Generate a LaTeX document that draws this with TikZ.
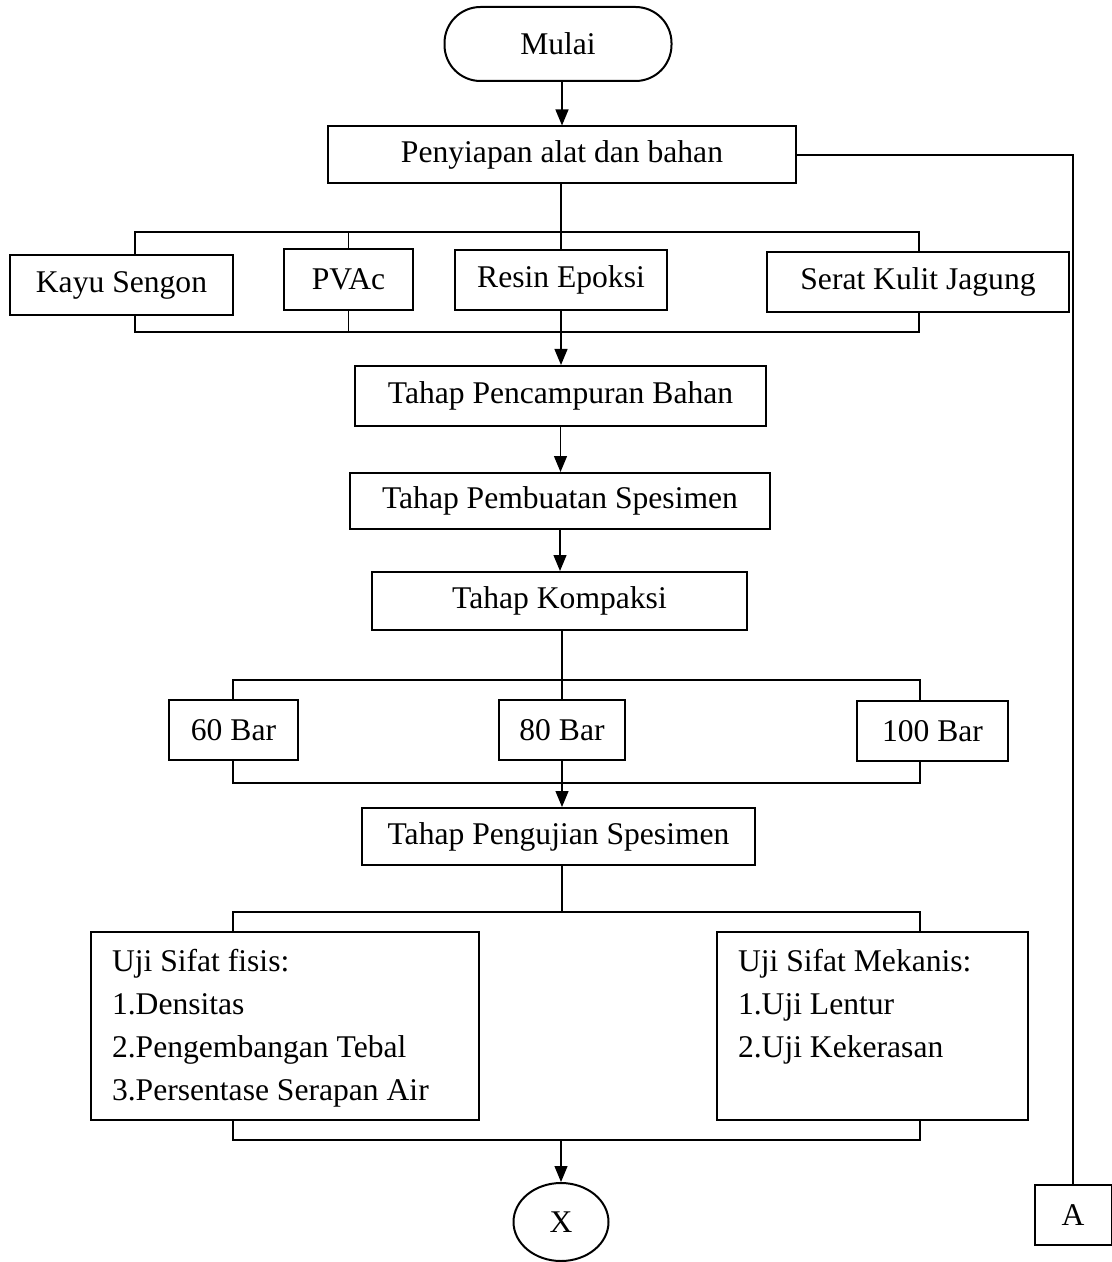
\documentclass[tikz,border=0pt]{standalone}
\usepackage{fontspec}
\setmainfont{Liberation Serif}
\usetikzlibrary{arrows.meta,shapes.geometric}

\begin{document}
\begin{tikzpicture}[x=0.5pt,y=-0.5pt,
	every node/.style={font=\fontsize{15.8}{21.5}\selectfont},
	box/.style={draw,line width=1pt,inner sep=0pt},
	line/.style={line width=0.6pt},
	arr/.style={line width=0.6pt,-{Triangle[length=8pt,width=6.5pt]}}]
\useasboundingbox (0,0) rectangle (1112,1262);

% start and preparation
\node[box,rounded corners=18pt,minimum width=113.5pt,minimum height=37pt] (mulai) at (558,44) {Mulai};
\node[box,minimum width=234pt,minimum height=28.5pt] (prep) at (562,155) {Penyiapan alat dan bahan};

% materials
\node[box,minimum width=111.5pt,minimum height=30pt] (kayu) at (121.5,285) {Kayu Sengon};
\node[box,minimum width=64.5pt,minimum height=30.5pt] (pvac) at (348.5,279.5) {PVAc};
\node[box,minimum width=106pt,minimum height=30pt] (resin) at (561,280) {Resin Epoksi};
\node[box,minimum width=151pt,minimum height=30pt] (serat) at (918,282) {Serat Kulit Jagung};

% process steps
\node[box,minimum width=205.5pt,minimum height=30pt] (campur) at (560.5,396) {Tahap Pencampuran Bahan};
\node[box,minimum width=210pt,minimum height=28pt] (buat) at (560,501) {Tahap Pembuatan Spesimen};
\node[box,minimum width=187.5pt,minimum height=29pt] (kompak) at (559.5,601) {Tahap Kompaksi};

% pressures
\node[box,minimum width=64.5pt,minimum height=30pt] (bar60) at (233.5,730) {60 Bar};
\node[box,minimum width=63pt,minimum height=30pt] (bar80) at (562,730) {80 Bar};
\node[box,minimum width=75.5pt,minimum height=30pt] (bar100) at (932.5,731) {100 Bar};

% testing
\node[box,minimum width=196.5pt,minimum height=28.5pt] (uji) at (558.5,836.5) {Tahap Pengujian Spesimen};
\node[box,inner xsep=10.5pt,inner ysep=8.5pt] (fisis) at (285,1026) {%
	\begin{minipage}[c][77pt][t]{173pt}
	Uji Sifat fisis:\\
	1.Densitas\\
	2.Pengembangan Tebal\\
	3.Persentase Serapan Air
	\end{minipage}};
\node[box,inner xsep=10.5pt,inner ysep=8.5pt] (mekanis) at (872.5,1026) {%
	\begin{minipage}[c][77pt][t]{134.5pt}
	Uji Sifat Mekanis:\\
	1.Uji Lentur\\
	2.Uji Kekerasan
	\end{minipage}};

% connectors
\node[box,ellipse,minimum width=47.5pt,minimum height=39pt] (x) at (561,1222) {X};
\node[box,minimum width=38.5pt,minimum height=30pt] (a) at (1073,1215) {A};

\coordinate (t1) at (135,232);
\coordinate (t2) at (919,232);
\coordinate (b1) at (135,332);
\coordinate (b2) at (919,332);
\coordinate (t3) at (233,680);
\coordinate (t4) at (920,680);
\coordinate (b3) at (233,783);
\coordinate (b4) at (920,783);
\coordinate (t5) at (233,912);
\coordinate (t6) at (920,912);
\coordinate (b5) at (233,1140);
\coordinate (b6) at (920,1140);

\draw[arr] (mulai.south -| prep) -- (prep.north);
\draw[line] (prep.east) -| (a.north);

\draw[line] (prep.south -| resin) -- (resin.north);
\draw[line] (kayu.north -| t1) -- (t1) -- (t2) -- (serat.north -| t2);
\draw[line] (pvac.north) -- (pvac.north |- t1);
\draw[line] (kayu.south -| b1) -- (b1) -- (b2) -- (serat.south -| b2);
\draw[line] (pvac.south) -- (pvac.south |- b1);
\draw[arr] (resin.south) -- (resin.south |- campur.north);

\draw[arr] (campur.south) -- (campur.south |- buat.north);
\draw[arr] (buat.south) -- (buat.south |- kompak.north);

\draw[line] (kompak.south -| bar80) -- (bar80.north);
\draw[line] (bar60.north -| t3) -- (t3) -- (t4) -- (bar100.north -| t4);
\draw[line] (bar60.south -| b3) -- (b3) -- (b4) -- (bar100.south -| b4);
\draw[arr] (bar80.south) -- (bar80.south |- uji.north);

\draw[line] (uji.south -| bar80) -- (bar80 |- t5);
\draw[line] (fisis.north -| t5) -- (t5) -- (t6) -- (mekanis.north -| t6);
\draw[line] (fisis.south -| b5) -- (b5) -- (b6) -- (mekanis.south -| b6);
\draw[arr] (x.north |- b5) -- (x);
\end{tikzpicture}
\end{document}
